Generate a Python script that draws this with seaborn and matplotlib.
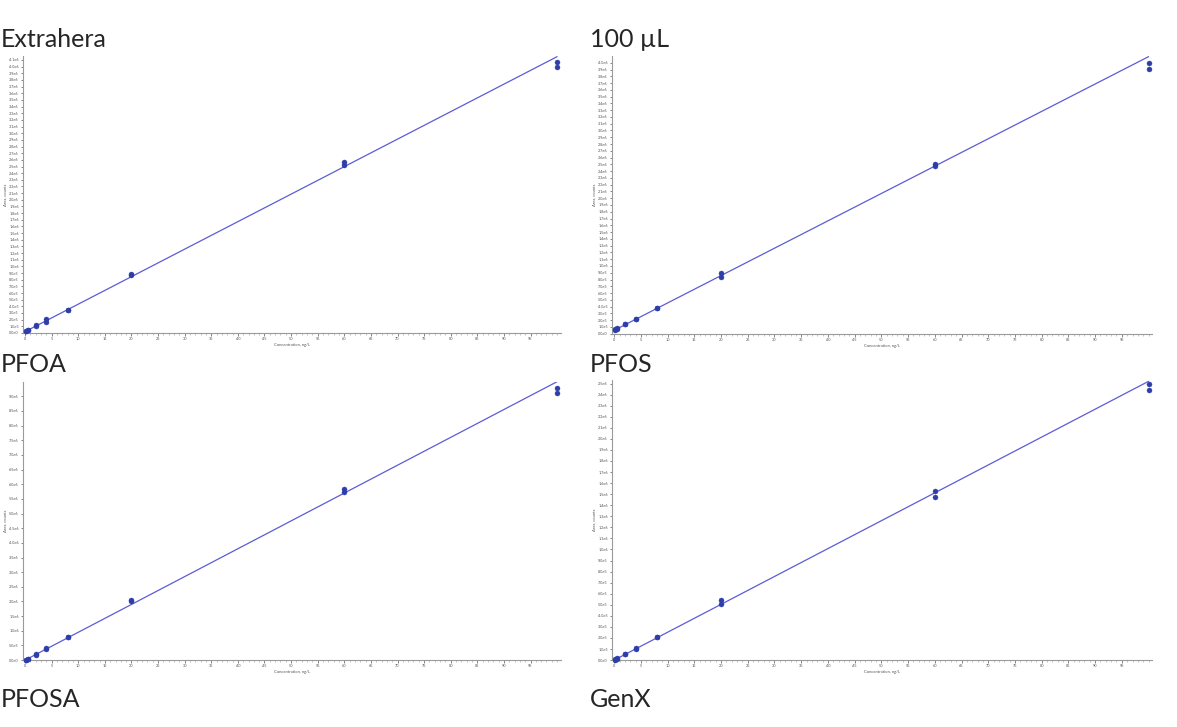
import numpy as np
import pandas as pd
import matplotlib
matplotlib.use("Agg")
import matplotlib.pyplot as plt
import seaborn as sns
from matplotlib.ticker import FuncFormatter, MultipleLocator

# calibration levels (ng/L), two replicates each
conc = [0.2, 0.2, 0.5, 0.5, 2, 2, 4, 4, 8, 8, 20, 20, 60, 60, 100, 100]

# peak areas in units of 1e6 counts
pfoa = [0.03, 0.035, 0.045, 0.05, 0.11, 0.12, 0.17, 0.21, 0.345, 0.35,
        0.87, 0.89, 2.52, 2.57, 3.99, 4.07]
pfos = [0.06, 0.07, 0.07, 0.08, 0.14, 0.15, 0.21, 0.22, 0.38, 0.385,
        0.84, 0.90, 2.47, 2.51, 3.91, 3.99]
pfosa = [0.01, 0.015, 0.03, 0.035, 0.19, 0.20, 0.39, 0.41, 0.78, 0.80,
         2.00, 2.04, 5.72, 5.84, 9.13, 9.30]
genx = [0.005, 0.008, 0.012, 0.015, 0.055, 0.058, 0.10, 0.108, 0.205, 0.21,
        0.51, 0.54, 1.47, 1.53, 2.44, 2.50]

# calibration fit (1e6 counts): intercept, slope per ng/L
fit_intercept = [0.02, 0.05, 0.0, 0.0]
fit_slope = [0.0413, 0.0404, 0.095, 0.0252]

# y axis: tick step, last labelled tick, axis top (1e6 counts)
y_step = [0.1, 0.1, 0.5, 0.1]
y_last = [4.1, 4.0, 9.0, 2.5]
y_top = [4.16, 4.1, 9.5, 2.53]

responses = [pfoa, pfos, pfosa, genx]
captions = ["PFOA", "PFOS", "PFOSA", "GenX"]
col_titles = ["Extrahera", "100 µL"]

sns.set_style("white")
plt.rcParams["font.family"] = ["Lato", "DejaVu Sans"]

fig = plt.figure(figsize=(11.77, 7.27), dpi=100)

# axes boxes in figure fractions: left, bottom, width, height
boxes = [
    [0.0195, 0.542, 0.457, 0.381],
    [0.520, 0.541, 0.459, 0.382],
    [0.0195, 0.092, 0.457, 0.383],
    [0.520, 0.092, 0.459, 0.385],
]

point_color = "#2e3ea8"
line_color = "#5c5cd6"
axis_color = "#9a9a9a"


def sci_label(v, pos=None):
    if abs(v) < 1e-9:
        return "0.0e0"
    e = int(np.floor(np.log10(abs(v)) + 1e-9))
    m = v / 10 ** e
    return f"{m:.1f}e{e}"


for i, box in enumerate(boxes):
    ax = fig.add_axes(box)
    df = pd.DataFrame({"conc": conc, "area": np.array(responses[i]) * 1e6})

    xfit = np.linspace(0, df["conc"].max(), 50)
    fit = pd.DataFrame({"conc": xfit,
                        "area": (fit_intercept[i] + fit_slope[i] * xfit) * 1e6})
    sns.lineplot(data=fit, x="conc", y="area", ax=ax, color=line_color,
                 linewidth=0.9)
    sns.scatterplot(data=df, x="conc", y="area", ax=ax, color=point_color,
                    s=13, edgecolor=point_color, linewidth=0.3, zorder=3,
                    clip_on=False)

    ax.set_xlim(-0.4, 100.7)
    ax.set_ylim(0, y_top[i] * 1e6)
    ax.set_xticks(np.arange(0, 100, 5))
    ax.xaxis.set_minor_locator(MultipleLocator(1))
    yt = np.arange(0, y_last[i] + y_step[i] / 2, y_step[i]) * 1e6
    ax.set_yticks(yt)
    ax.yaxis.set_major_formatter(FuncFormatter(sci_label))

    for side in ["top", "right"]:
        ax.spines[side].set_visible(False)
    for side in ["left", "bottom"]:
        ax.spines[side].set_color(axis_color)
        ax.spines[side].set_linewidth(0.8)
    ax.tick_params(axis="both", which="major", labelsize=2.8,
                   colors="#555555", length=1.8, width=0.5, pad=1.2)
    ax.tick_params(axis="x", which="minor", length=1.2, width=0.4,
                   color=axis_color)
    ax.tick_params(axis="both", which="both", direction="out",
                   bottom=True, left=True)
    ax.set_xlabel("Concentration, ng/L", fontsize=3.0, color="#555555",
                  labelpad=1.5)
    ax.set_ylabel("Area, counts", fontsize=3.0, color="#555555", labelpad=1.5)

# column headers and panel captions
fig.text(0.001, 0.930, col_titles[0], fontsize=18, ha="left", va="bottom")
fig.text(0.501, 0.930, col_titles[1], fontsize=18, ha="left", va="bottom")
fig.text(0.001, 0.483, captions[0], fontsize=18, ha="left", va="bottom")
fig.text(0.501, 0.483, captions[1], fontsize=18, ha="left", va="bottom")
fig.text(0.001, 0.022, captions[2], fontsize=18, ha="left", va="bottom")
fig.text(0.501, 0.022, captions[3], fontsize=18, ha="left", va="bottom")

fig.savefig("out.png", dpi=100, facecolor="white")
